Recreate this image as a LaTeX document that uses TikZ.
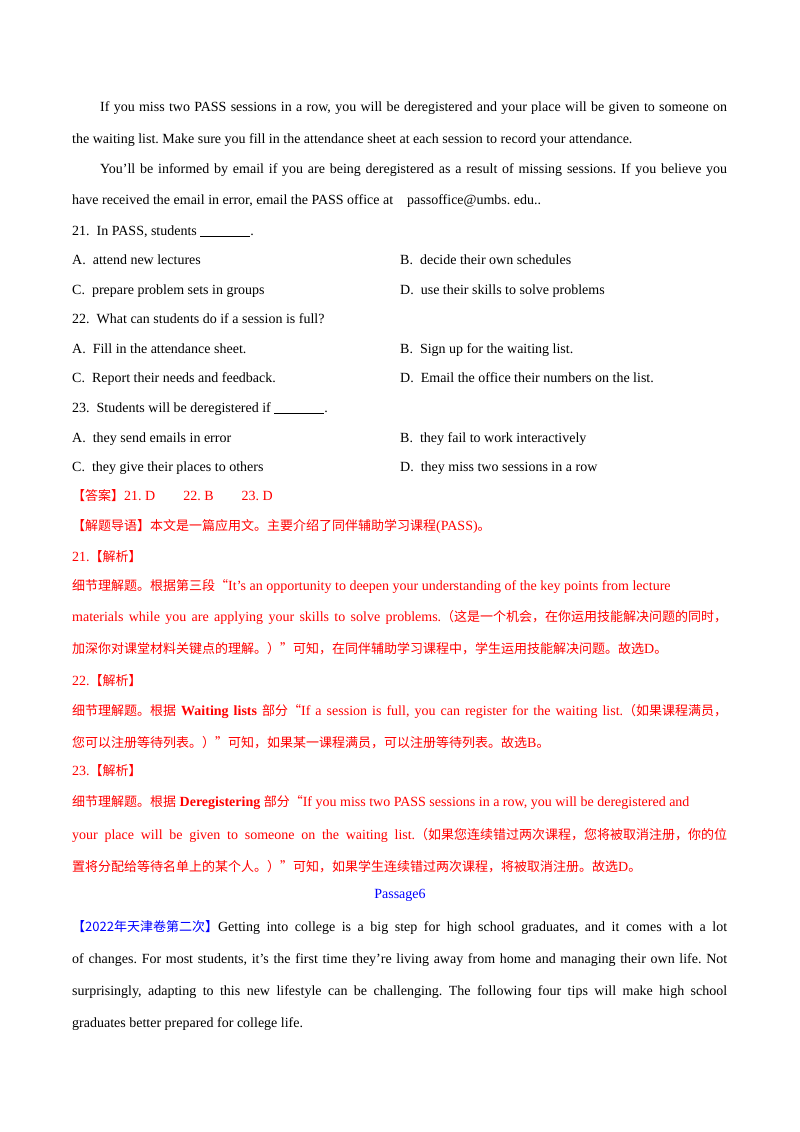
\documentclass[tikz,border=0pt]{standalone}
\usepackage{fontspec}
\setmainfont{Liberation Serif}
\newfontfamily\cjk{Noto Sans CJK SC}
\newcommand{\zh}[1]{{\cjk\fontsize{13}{15}\selectfont #1}}
\definecolor{ansred}{RGB}{255,0,0}
\definecolor{psblue}{RGB}{0,0,255}
\frenchspacing
\begin{document}
\begin{tikzpicture}[x=1pt,y=-1pt,yshift=-5pt,
  ln/.style={anchor=base west,inner sep=0pt,font=\fontsize{14}{16}\selectfont\frenchspacing},
  rd/.style={ln,text=ansred}]
\useasboundingbox (0,-5) rectangle (800,1127);
\node[ln] (l1) at (100,106) {\makebox[627pt][s]{If you miss two PASS sessions in a row, you will be deregistered and your place will be given to someone on}};
\node[ln] (l2) at (72,138) {the waiting list. Make sure you fill in the attendance sheet at each session to record your attendance.};
\node[ln] (l3) at (100,168) {\makebox[627pt][s]{You'll be informed by email if you are being deregistered as a result of missing sessions. If you believe you}};
\node[ln] (l4) at (72,199) {have received the email in error, email the PASS office at\quad passoffice@umbs. edu..};
\node[ln] (q21) at (72,230) {21.\ \ In PASS, students \underline{\hspace{50pt}}.};
\node[ln] (a21) at (72,259) {A.\ \ attend new lectures};
\node[ln] (b21) at (400,259) {B.\ \ decide their own schedules};
\node[ln] (c21) at (72,289) {C.\ \ prepare problem sets in groups};
\node[ln] (d21) at (400,289) {D.\ \ use their skills to solve problems};
\node[ln] (q22) at (72,318) {22.\ \ What can students do if a session is full?};
\node[ln] (a22) at (72,348) {A.\ \ Fill in the attendance sheet.};
\node[ln] (b22) at (400,348) {B.\ \ Sign up for the waiting list.};
\node[ln] (c22) at (72,377) {C.\ \ Report their needs and feedback.};
\node[ln] (d22) at (400,377) {D.\ \ Email the office their numbers on the list.};
\node[ln] (q23) at (72,407) {23.\ \ Students will be deregistered if \underline{\hspace{50pt}}.};
\node[ln] (a23) at (72,437) {A.\ \ they send emails in error};
\node[ln] (b23) at (400,437) {B.\ \ they fail to work interactively};
\node[ln] (c23) at (72,466) {C.\ \ they give their places to others};
\node[ln] (d23) at (400,466) {D.\ \ they miss two sessions in a row};
\node[rd] (ans) at (72,495) {\zh{【答案】}21. D\qquad 22. B\qquad 23. D};
\node[rd] (guide) at (72,525) {\zh{【解题导语】本文是一篇应用文。主要介绍了同伴辅助学习课程}(PASS)\zh{。}};
\node[rd] (j21) at (72,556) {21.\zh{【解析】}};
\node[rd] (r1) at (72,585) {\zh{细节理解题。根据第三段“}It's an opportunity to deepen your understanding of the key points from lecture};
\node[rd] (r2) at (72,616) {\makebox[655pt][s]{materials while you are applying your skills to solve problems.\zh{（这是一个机会，在你运用技能解决问题的同时，}}};
\node[rd] (r3) at (72,648) {\zh{加深你对课堂材料关键点的理解。）”可知，在同伴辅助学习课程中，学生运用技能解决问题。故选}D\zh{。}};
\node[rd] (j22) at (72,680) {22.\zh{【解析】}};
\node[rd] (r4) at (72,710) {\makebox[655pt][s]{\zh{细节理解题。根据} \textbf{Waiting lists} \zh{部分“}If a session is full, you can register for the waiting list.\zh{（如果课程满员，}}};
\node[rd] (r5) at (72,742) {\zh{您可以注册等待列表。）”可知，如果某一课程满员，可以注册等待列表。故选}B\zh{。}};
\node[rd] (j23) at (72,770) {23.\zh{【解析】}};
\node[rd] (r6) at (72,801) {\zh{细节理解题。根据} \textbf{Deregistering} \zh{部分“}If you miss two PASS sessions in a row, you will be deregistered and};
\node[rd] (r7) at (72,834) {\makebox[655pt][s]{your place will be given to someone on the waiting list.\zh{（如果您连续错过两次课程，您将被取消注册，你的位}}};
\node[rd] (r8) at (72,866) {\zh{置将分配给等待名单上的某个人。）”可知，如果学生连续错过两次课程，将被取消注册。故选}D\zh{。}};
\node[ln,anchor=base,text=psblue] (ps) at (400,893) {Passage6};
\node[ln] (p1) at (72,926) {\makebox[655pt][s]{\textcolor{psblue}{\zh{【2022年天津卷第二次】}}Getting into college is a big step for high school graduates, and it comes with a lot}};
\node[ln] (p2) at (72,958) {\makebox[655pt][s]{of changes. For most students, it's the first time they're living away from home and managing their own life. Not}};
\node[ln] (p3) at (72,990) {\makebox[655pt][s]{surprisingly, adapting to this new lifestyle can be challenging. The following four tips will make high school}};
\node[ln] (p4) at (72,1022) {graduates better prepared for college life.};
\end{tikzpicture}
\end{document}
